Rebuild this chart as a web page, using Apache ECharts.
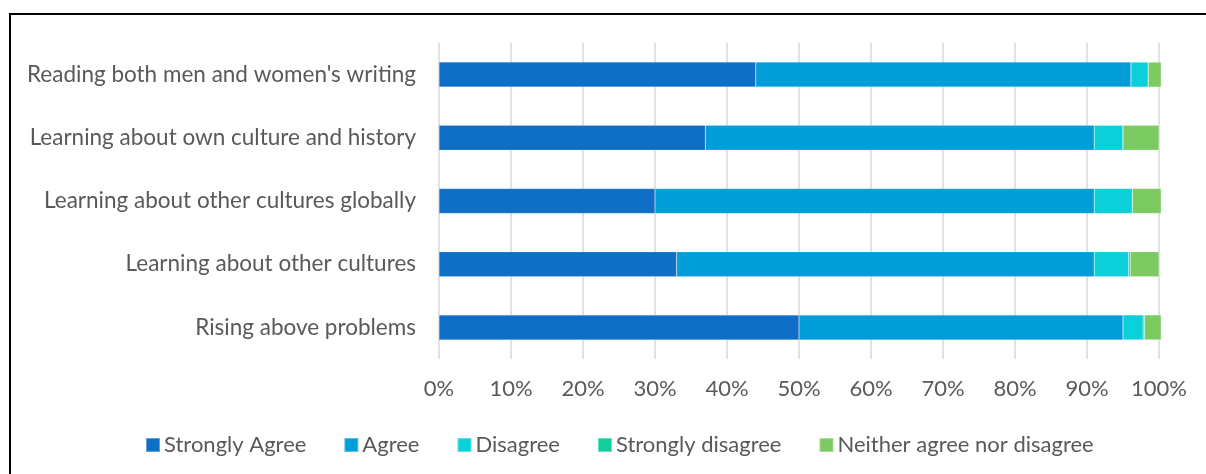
<!DOCTYPE html>
<html>
<head>
<meta charset="utf-8">
<script src="https://cdn.jsdelivr.net/npm/echarts@6/dist/echarts.min.js"></script>
<style>
  html, body { margin: 0; padding: 0; background: #fff; }
  #chart { width: 1206px; height: 474px; }
</style>
</head>
<body>
<div id="chart"></div>
<script>
// Survey statements, listed top to bottom
const categories = [
  "Reading both men and women's writing",
  "Learning about own culture and history",
  "Learning about other cultures globally",
  "Learning about other cultures",
  "Rising above problems"
];

// Share of responses (%) for each statement, same order as categories
const stronglyAgree    = [44, 37, 30, 33, 50];
const agree            = [52.1, 54, 61, 58, 45];
const disagree         = [2.4, 4, 5.3, 4.8, 2.8];
const stronglyDisagree = [0, 0, 0, 0.2, 0.2];
const neither          = [1.8, 5, 4, 4, 2.3];

const seriesNames = ['Strongly Agree', 'Agree', 'Disagree', 'Strongly disagree', 'Neither agree nor disagree'];
const seriesData  = [stronglyAgree, agree, disagree, stronglyDisagree, neither];
const colors      = ['#0F6FC6', '#009DD9', '#0BD0D9', '#10CF9B', '#7CCA62'];

const FONT = 'Lato';
const TEXT = '#595959';
const SIZE = 22;

const chart = echarts.init(document.getElementById('chart'), null, { renderer: 'canvas' });

chart.setOption({
  animation: false,
  color: colors,
  textStyle: { fontFamily: FONT },
  graphic: [{
    type: 'rect',
    shape: { x: 10, y: 14, width: 1260, height: 520 },
    style: { fill: 'none', stroke: '#000', lineWidth: 2 },
    silent: true
  }],
  grid: { left: 439, right: 47, top: 43, bottom: 115, containLabel: false },
  legend: {
    left: 140,
    top: 429,
    icon: 'rect',
    itemWidth: 14,
    itemHeight: 14,
    itemGap: 37,
    textStyle: { color: TEXT, fontSize: SIZE, fontFamily: FONT, padding: [0, 0, 0, -1] },
    data: seriesNames
  },
  xAxis: {
    type: 'value',
    min: 0,
    max: 100,
    interval: 10,
    axisLine: { show: false },
    axisTick: { show: false },
    splitLine: { show: true, lineStyle: { color: '#d9d9d9', width: 1.5 } },
    axisLabel: { color: TEXT, fontSize: SIZE, fontFamily: FONT, margin: 19, formatter: '{value}%' }
  },
  yAxis: {
    type: 'category',
    inverse: true,
    data: categories,
    axisLine: { show: false },
    axisTick: { show: false },
    axisLabel: { color: TEXT, fontSize: 22.5, fontFamily: FONT, margin: 23 }
  },
  series: seriesNames.map((name, i) => ({
    name,
    type: 'bar',
    stack: 'total',
    barWidth: 25,
    clip: false,
    data: seriesData[i],
    itemStyle: { borderColor: 'rgba(255,255,255,0.35)', borderWidth: 0.5 }
  }))
});
</script>
</body>
</html>
